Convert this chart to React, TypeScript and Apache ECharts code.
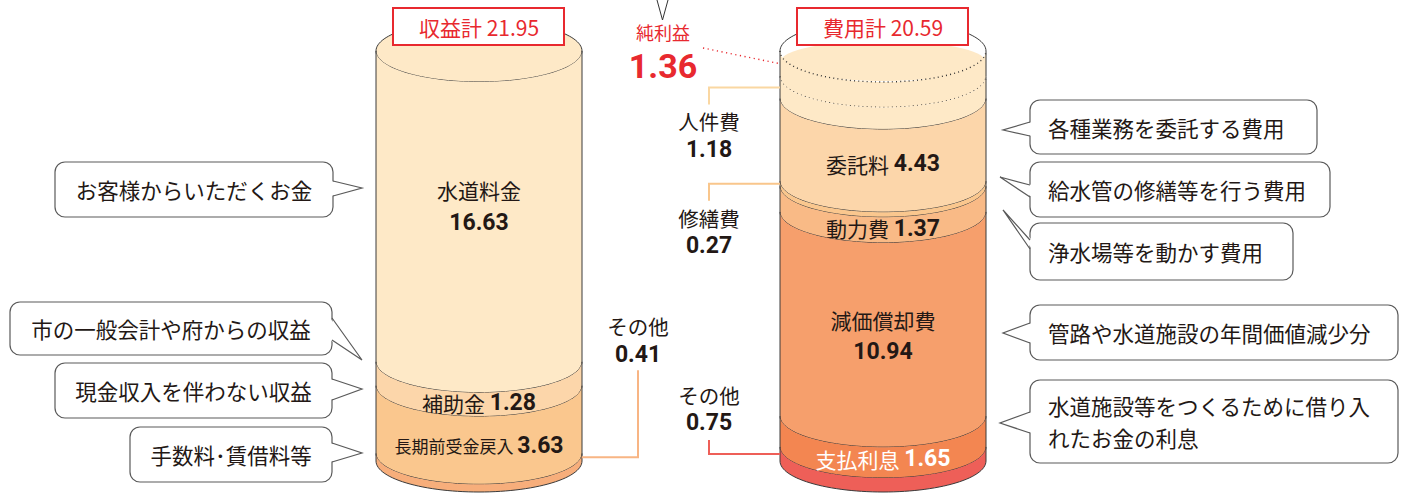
import React, { useEffect, useRef } from 'react';
import * as echarts from 'echarts';

// ---------- data ----------
const sides = ['収益', '費用'];
const revenueNames = ['水道料金', '補助金', '長期前受金戻入', 'その他'];
const revenueValues = [16.63, 1.28, 3.63, 0.41];
const expenseNames = ['人件費', '委託料', '修繕費', '動力費', '減価償却費', '支払利息', 'その他'];
const expenseValues = [1.18, 4.43, 0.27, 1.37, 10.94, 1.65, 0.75];
const totalNames = ['収益計', '費用計'];
const netName = '純利益';
const revenueNotes = ['お客様からいただくお金', '市の一般会計や府からの収益', '現金収入を伴わない収益', '手数料･賃借料等'];
const expenseNotes = [
  '各種業務を委託する費用',
  '給水管の修繕等を行う費用',
  '浄水場等を動かす費用',
  '管路や水道施設の年間価値減少分',
  '水道施設等をつくるために借り入\nれたお金の利息',
];

// ---------- styles ----------
const FONT = '"Noto Sans CJK JP", "Noto Sans", sans-serif';
const NUM_FONT = 'Roboto, "Noto Sans", sans-serif';
const INK = '#231815';
const RED = '#E8292F';
const STROKE = '#3a3a3a';
const BOX = '#5a5a5a';
const RX = 103;
const RY = 31;

type SegStyle = { fill: string; mode: string; dy?: number; color?: string; small?: boolean; line?: string };
const revenueStyle: SegStyle[] = [
  { fill: '#FEE9C7', mode: 'in2', dy: 0 },
  { fill: '#FCD6AA', mode: 'in1', dy: 29 },
  { fill: '#FAC78E', mode: 'in1', dy: 26, small: true },
  { fill: '#F7AE7B', mode: 'outR', line: '#F8B584' },
];
const netStyle: SegStyle = { fill: '#FEE9C7', mode: 'net' };
const expenseStyle: SegStyle[] = [
  { fill: '#FEE9C7', mode: 'outL', line: '#FAD7A2' },
  { fill: '#FCD6AA', mode: 'in1', dy: 24 },
  { fill: '#FAC78E', mode: 'outL', line: '#F9C68C' },
  { fill: '#F9BA86', mode: 'in1', dy: 29 },
  { fill: '#F69F6C', mode: 'in2', dy: 22 },
  { fill: '#F38651', mode: 'in1', dy: 27, color: '#ffffff' },
  { fill: '#EE5F58', mode: 'outLUp', line: '#EE5F58' },
];

const leftNoteBoxes = [
  { x: 55, y: 162, w: 278, h: 55, b1: 181, b2: 196, tip: [362, 188] },
  { x: 10, y: 302, w: 322, h: 53, b1: 318, b2: 340, tip: [362, 360] },
  { x: 55, y: 363, w: 277, h: 55, b1: 379, b2: 400, tip: [362, 389] },
  { x: 130, y: 427, w: 202, h: 55, b1: 443, b2: 462, tip: [362, 453] },
];
const rightNoteBoxes = [
  { x: 1030, y: 100, w: 287, h: 54, b1: 122, b2: 136, tip: [1003, 130] },
  { x: 1030, y: 162, w: 300, h: 55, b1: 185, b2: 197, tip: [1000, 177] },
  { x: 1030, y: 223, w: 263, h: 57, b1: 240, b2: 249, tip: [1003, 210] },
  { x: 1030, y: 305, w: 368, h: 55, b1: 323, b2: 343, tip: [1003, 333] },
  { x: 1030, y: 380, w: 368, h: 83, b1: 412, b2: 433, tip: [1000, 423] },
];

// ---------- stacking ----------
const revTotal = revenueValues.reduce((a, b) => a + b, 0);
const expTotal = expenseValues.reduce((a, b) => a + b, 0);
type Seg = { cat: number; name: string; value: number; hi: number; lo: number; style: SegStyle; top?: boolean; net?: boolean };
const segments: Seg[] = [];
{
  let cur = revTotal;
  revenueNames.forEach((name, i) => {
    const v = revenueValues[i];
    segments.push({ cat: 0, name, value: v, hi: cur, lo: Math.max(0, cur - v), style: revenueStyle[i], top: i === 0 });
    cur -= v;
  });
  segments.push({ cat: 1, name: netName, value: revTotal - expTotal, hi: revTotal, lo: expTotal, style: netStyle, top: true, net: true });
  cur = expTotal;
  expenseNames.forEach((name, i) => {
    const v = expenseValues[i];
    segments.push({ cat: 1, name, value: v, hi: cur, lo: Math.max(0, cur - v), style: expenseStyle[i] });
    cur -= v;
  });
}

function arcPts(cx: number, cy: number, upper = false) {
  const pts: number[][] = [];
  const N = 60;
  for (let k = 0; k <= N; k++) {
    const t = Math.PI - (Math.PI * k) / N;
    pts.push([cx + RX * Math.cos(t), cy + (upper ? -1 : 1) * RY * Math.sin(t)]);
  }
  return pts;
}

const rich = (color: string, nameSize = 21) => ({
  n: { fontSize: nameSize, fontFamily: FONT, fill: color },
  s: { fontSize: 17, fontFamily: FONT, fill: color },
  v: { fontSize: 23, fontFamily: NUM_FONT, fontWeight: 'bold', fill: color },
});

function renderItem(params: any, api: any) {
  const s = segments[api.value(3)];
  const pT = api.coord([api.value(0), api.value(2)]);
  const pB = api.coord([api.value(0), api.value(1)]);
  const cx = pT[0];
  const yT = pT[1];
  const yB = pB[1];
  const mid = (yT + yB) / 2;
  const st = s.style;
  const ch: any[] = [];
  const val = s.value.toFixed(2);

  if (s.net) {
    ch.push({ type: 'ellipse', shape: { cx, cy: yT, rx: RX, ry: RY }, style: { fill: '#ffffff' } });
    ch.push({ type: 'polyline', shape: { points: arcPts(cx, yT, true) }, style: { stroke: STROKE, lineWidth: 1, fill: 'none' } });
    ch.push({ type: 'ellipse', shape: { cx, cy: yT + 10, rx: RX - 1, ry: RY - 11 }, style: { fill: st.fill } });
  } else if (s.top) {
    ch.push({ type: 'ellipse', shape: { cx, cy: yT, rx: RX, ry: RY }, style: { fill: st.fill, stroke: STROKE, lineWidth: 1 } });
  }
  const band = arcPts(cx, yT).concat(arcPts(cx, yB).reverse());
  ch.push({ type: 'polygon', shape: { points: band }, style: { fill: st.fill } });
  ch.push({ type: 'line', shape: { x1: cx - RX, y1: yT, x2: cx - RX, y2: yB }, style: { stroke: STROKE, lineWidth: 1 } });
  ch.push({ type: 'line', shape: { x1: cx + RX, y1: yT, x2: cx + RX, y2: yB }, style: { stroke: STROKE, lineWidth: 1 } });
  const dotted = { stroke: '#333333', lineWidth: 1.4, lineDash: [1, 3.2], fill: 'none' };
  if (s.net) {
    ch.push({ type: 'polyline', shape: { points: arcPts(cx, yT) }, style: dotted });
    ch.push({ type: 'polyline', shape: { points: arcPts(cx, yB) }, style: dotted });
  } else {
    ch.push({ type: 'polyline', shape: { points: arcPts(cx, yB) }, style: { stroke: STROKE, lineWidth: 1, fill: 'none' } });
  }

  const color = st.color || INK;
  if (st.mode === 'in2') {
    ch.push({
      type: 'text', x: cx, y: mid + (st.dy || 0),
      style: { text: `{n|${s.name}}\n{v|${val}}`, rich: rich(color), align: 'center', verticalAlign: 'middle', lineHeight: 32, fill: color, fontFamily: FONT },
    });
  } else if (st.mode === 'in1') {
    const key = st.small ? 's' : 'n';
    ch.push({
      type: 'text', x: cx, y: mid + (st.dy || 0),
      style: { text: `{${key}|${s.name} }{v|${val}}`, rich: rich(color), align: 'center', verticalAlign: 'middle', fill: color, fontFamily: FONT },
    });
  } else if (st.mode === 'outL') {
    const lx = cx - RX - 71;
    ch.push({ type: 'polyline', shape: { points: [[cx - RX, mid], [lx, mid], [lx, mid + 17]] }, style: { stroke: st.line, lineWidth: 2, fill: 'none' } });
    ch.push({
      type: 'text', x: lx, y: mid + 20,
      style: { text: `{n|${s.name}}\n{v|${val}}`, rich: rich(INK, 20.5), align: 'center', verticalAlign: 'top', lineHeight: 28, fill: INK, fontFamily: FONT },
    });
  } else if (st.mode === 'outLUp') {
    const lx = cx - RX - 71;
    ch.push({ type: 'polyline', shape: { points: [[cx - RX, mid], [lx, mid], [lx, mid - 14]] }, style: { stroke: st.line, lineWidth: 2, fill: 'none' } });
    ch.push({
      type: 'text', x: lx, y: mid - 17,
      style: { text: `{n|${s.name}}\n{v|${val}}`, rich: rich(INK, 20.5), align: 'center', verticalAlign: 'bottom', lineHeight: 28, fill: INK, fontFamily: FONT },
    });
  } else if (st.mode === 'outR') {
    const lx = cx + RX + 56;
    ch.push({ type: 'polyline', shape: { points: [[cx + RX, mid], [lx, mid], [lx, mid - 87]] }, style: { stroke: st.line, lineWidth: 2, fill: 'none' } });
    ch.push({
      type: 'text', x: lx, y: mid - 89,
      style: { text: `{n|${s.name}}\n{v|${val}}`, rich: rich(INK, 20.5), align: 'center', verticalAlign: 'bottom', lineHeight: 28, fill: INK, fontFamily: FONT },
    });
  } else if (st.mode === 'net') {
    const nx = cx - 220;
    ch.push({ type: 'line', shape: { x1: cx - 180, y1: yT - 3, x2: cx - RX, y2: mid }, style: { stroke: RED, lineWidth: 1.4, lineDash: [1.2, 3.5] } });
    ch.push({ type: 'text', x: nx, y: yT - 19, style: { text: s.name, fill: RED, fontSize: 18, fontFamily: FONT, align: 'center', verticalAlign: 'middle' } });
    ch.push({ type: 'text', x: nx, y: yT + 15, style: { text: val, fill: RED, fontSize: 34, fontWeight: 'bold', fontFamily: NUM_FONT, align: 'center', verticalAlign: 'middle' } });
  }

  if (s.top) {
    const total = s.cat === 0 ? revTotal : expTotal;
    ch.push({ type: 'rect', shape: { x: cx - 86, y: yT - 43, width: 171, height: 37 }, style: { fill: '#ffffff', stroke: RED, lineWidth: 2 } });
    ch.push({
      type: 'text', x: cx, y: yT - 24.5,
      style: { text: `${totalNames[s.cat]} ${total.toFixed(2)}`, fill: RED, fontSize: 21, fontFamily: FONT, align: 'center', verticalAlign: 'middle' },
    });
  }
  return { type: 'group', children: ch };
}

function callout(b: any, text: string, side: 'left' | 'right') {
  const edge = side === 'left' ? b.x + b.w : b.x;
  const inner = side === 'left' ? edge - 2 : edge + 2;
  const tx = side === 'left' ? b.x + b.w / 2 : b.x + 18;
  return {
    type: 'group',
    children: [
      { type: 'rect', shape: { x: b.x, y: b.y, width: b.w, height: b.h, r: 10 }, style: { fill: '#ffffff', stroke: BOX, lineWidth: 1.2 } },
      { type: 'polygon', shape: { points: [[inner, b.b1], b.tip, [inner, b.b2]] }, style: { fill: '#ffffff' } },
      { type: 'polyline', shape: { points: [[edge, b.b1], b.tip, [edge, b.b2]] }, style: { stroke: BOX, lineWidth: 1.2, fill: 'none' } },
      {
        type: 'text', x: tx, y: b.y + b.h / 2,
        style: { text, fill: INK, fontSize: 21.5, fontFamily: FONT, align: side === 'left' ? 'center' : 'left', verticalAlign: 'middle', lineHeight: 31.5 },
      },
    ],
  };
}

export default function App() {
  const ref = useRef<HTMLDivElement>(null);
  useEffect(() => {
    document.body.style.margin = '0';
    const chart = echarts.init(ref.current!, undefined, { renderer: 'svg' });
    const graphics: any[] = [
      { type: 'polyline', shape: { points: [[657, 0], [662.5, 20], [668, 0]] }, style: { stroke: '#333333', lineWidth: 1, fill: 'none' } },
    ];
    leftNoteBoxes.forEach((b, i) => graphics.push(callout(b, revenueNotes[i], 'left')));
    rightNoteBoxes.forEach((b, i) => graphics.push(callout(b, expenseNotes[i], 'right')));
    chart.setOption({
      animation: false,
      backgroundColor: '#ffffff',
      grid: { left: 277, right: 320, top: 51, bottom: 32 },
      xAxis: { type: 'category', data: sides, show: false },
      yAxis: { type: 'value', min: 0, max: revTotal, show: false },
      graphic: graphics,
      series: [
        {
          type: 'custom',
          silent: true,
          clip: false,
          renderItem,
          data: segments.map((s, i) => [s.cat, s.lo, s.hi, i]),
        },
      ],
    });
    return () => chart.dispose();
  }, []);
  return <div ref={ref} style={{ position: 'fixed', left: 0, top: 0, width: 1405, height: 493 }} />;
}
